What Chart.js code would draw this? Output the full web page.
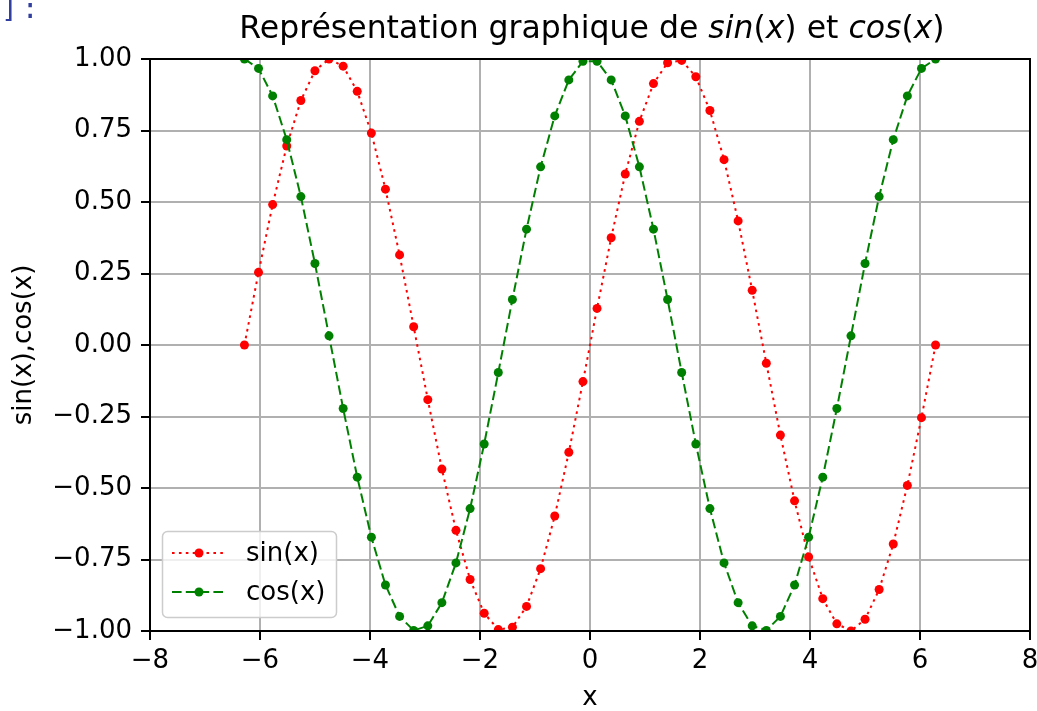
<!DOCTYPE html>
<html><head><meta charset="utf-8">
<script src="https://cdn.jsdelivr.net/npm/chart.js@4/dist/chart.umd.min.js"></script>
<style>
html,body{margin:0;padding:0;background:#fff;}
#wrap{position:relative;width:1037px;height:711px;overflow:hidden;}
#prompt{position:absolute;left:1px;top:-5px;font-family:'DejaVu Sans Mono';font-size:28px;line-height:1;color:#303F9F;letter-spacing:4px;}
canvas{position:absolute;left:0;top:0;}
</style></head><body>
<div id="wrap"><canvas id="c" width="1037" height="711"></canvas><div id="prompt">]:</div></div>
<script>
const xValues = [-6.283,-6.027,-5.770,-5.514,-5.257,-5.001,-4.745,-4.488,-4.232,-3.975,-3.719,-3.462,-3.206,-2.949,-2.693,-2.437,-2.180,-1.924,-1.667,-1.411,-1.154,-0.898,-0.641,-0.385,-0.128,0.128,0.385,0.641,0.898,1.154,1.411,1.667,1.924,2.180,2.437,2.693,2.949,3.206,3.462,3.719,3.975,4.232,4.488,4.745,5.001,5.257,5.514,5.770,6.027,6.283];
const sinValues = [0.000,0.254,0.491,0.696,0.855,0.959,1.000,0.975,0.887,0.741,0.545,0.315,0.064,-0.191,-0.434,-0.648,-0.820,-0.938,-0.995,-0.987,-0.914,-0.782,-0.598,-0.375,-0.128,0.128,0.375,0.598,0.782,0.914,0.987,0.995,0.938,0.820,0.648,0.434,0.191,-0.064,-0.315,-0.545,-0.741,-0.887,-0.975,-1.000,-0.959,-0.855,-0.696,-0.491,-0.254,0.000];
const cosValues = [1.000,0.967,0.871,0.718,0.519,0.285,0.032,-0.222,-0.462,-0.672,-0.839,-0.949,-0.998,-0.982,-0.901,-0.762,-0.572,-0.346,-0.096,0.159,0.405,0.623,0.801,0.927,0.992,0.992,0.927,0.801,0.623,0.405,0.159,-0.096,-0.346,-0.572,-0.762,-0.901,-0.982,-0.998,-0.949,-0.839,-0.672,-0.462,-0.222,0.032,0.285,0.519,0.718,0.871,0.967,1.000];
const xTicks = [-8,-6,-4,-2,0,2,4,6,8];
const yTicks = [-1,-0.75,-0.5,-0.25,0,0.25,0.5,0.75,1];
const seriesNames = ['sin(x)','cos(x)'];
const titleParts = [['Représentation graphique de ',false],['sin',true],['(',false],['x',true],[')',false],[' et ',false],['cos',true],['(',false],['x',true],[')',false]];
const xLabel = 'x';
const yLabel = 'sin(x),cos(x)';

const FONT = 'DejaVu Sans';
const minus = s => String(s).replace('-', '\u2212');

const titlePlugin = {
  id: 'mplTitle',
  afterDraw(chart) {
    const ctx = chart.ctx, ca = chart.chartArea;
    ctx.save();
    ctx.fillStyle = '#000';
    ctx.textBaseline = 'alphabetic';
    const fontOf = it => (it ? 'oblique ' : '') + '31.5px "' + FONT + '"';
    let total = 0;
    titleParts.forEach(p => { ctx.font = fontOf(p[1]); total += ctx.measureText(p[0]).width; });
    let x = (ca.left + ca.right) / 2 + 2 - total / 2;
    const y = ca.top - 21.5;
    ctx.textAlign = 'left';
    titleParts.forEach(p => { ctx.font = fontOf(p[1]); ctx.fillText(p[0], x, y); x += ctx.measureText(p[0]).width; });
    ctx.restore();
  }
};

const framePlugin = {
  id: 'frame',
  afterDatasetsDraw(chart) {
    const ctx = chart.ctx, ca = chart.chartArea;
    ctx.save();
    ctx.strokeStyle = '#000';
    ctx.lineWidth = 2;
    ctx.setLineDash([]);
    ctx.strokeRect(Math.round(ca.left), Math.round(ca.top), Math.round(ca.right - ca.left), Math.round(ca.bottom - ca.top));
    ctx.restore();
  }
};

const legendPlugin = {
  id: 'mplLegend',
  afterDraw(chart) {
    const ctx = chart.ctx, ca = chart.chartArea;
    const bx = ca.left + 12.5, bw = 174, bh = 86, by = ca.bottom - 13.5 - bh;
    ctx.save();
    ctx.beginPath();
    ctx.roundRect(bx, by, bw, bh, 5);
    ctx.fillStyle = 'rgba(255,255,255,0.8)';
    ctx.fill();
    ctx.strokeStyle = '#cccccc';
    ctx.lineWidth = 1.5;
    ctx.stroke();
    chart.data.datasets.forEach((ds, i) => {
      const ry = by + 21.5 + i * 39;
      ctx.beginPath();
      ctx.setLineDash(ds.borderDash);
      ctx.strokeStyle = ds.borderColor;
      ctx.lineWidth = ds.borderWidth;
      ctx.moveTo(bx + 9.5, ry);
      ctx.lineTo(bx + 63.5, ry);
      ctx.stroke();
      ctx.setLineDash([]);
      ctx.beginPath();
      ctx.arc(bx + 36.5, ry, ds.pointRadius, 0, Math.PI * 2);
      ctx.fillStyle = ds.pointBackgroundColor;
      ctx.fill();
      ctx.fillStyle = '#000';
      ctx.font = '26px "' + FONT + '"';
      ctx.textBaseline = 'middle';
      ctx.textAlign = 'left';
      ctx.fillText(ds.label, bx + 83.5, ry + 1);
    });
    ctx.restore();
  }
};

const mk = (vals) => xValues.map((x, i) => ({x: x, y: vals[i]}));

new Chart(document.getElementById('c'), {
  type: 'scatter',
  data: {
    datasets: [
      {label: seriesNames[0], data: mk(sinValues), showLine: true, borderColor: '#ff0000', backgroundColor: '#ff0000',
       pointBackgroundColor: '#ff0000', borderWidth: 2, borderDash: [2.6, 4.3], pointRadius: 4.5, pointBorderWidth: 0,
       pointHoverRadius: 4.5, tension: 0, clip: 0, order: 1},
      {label: seriesNames[1], data: mk(cosValues), showLine: true, borderColor: '#008000', backgroundColor: '#008000',
       pointBackgroundColor: '#008000', borderWidth: 2, borderDash: [9.6, 4.2], pointRadius: 4.5, pointBorderWidth: 0,
       pointHoverRadius: 4.5, tension: 0, clip: 0, order: 0}
    ]
  },
  options: {
    responsive: false,
    animation: false,
    devicePixelRatio: 1,
    layout: {padding: {left: 0, top: 59, right: 7, bottom: 0}},
    plugins: {legend: {display: false}, title: {display: false}, tooltip: {enabled: false}},
    scales: {
      x: {
        type: 'linear', min: -8, max: 8,
        afterBuildTicks: s => { s.ticks = xTicks.map(v => ({value: v})); },
        afterFit: s => { s.height = 80; s.paddingRight = 7; s.paddingLeft = 0; },
        ticks: {callback: v => minus(v), font: {family: FONT, size: 26, lineHeight: 1.2}, color: '#000', padding: 6, maxRotation: 0, autoSkip: false},
        grid: {color: '#b0b0b0', lineWidth: 2, tickColor: '#000', tickWidth: 2, tickLength: 9, drawTicks: true},
        border: {display: false},
        title: {display: true, text: xLabel, font: {family: FONT, size: 26, lineHeight: 1.0}, color: '#000', padding: {top: 0, bottom: 0}}
      },
      y: {
        type: 'linear', min: -1, max: 1,
        afterBuildTicks: s => { s.ticks = yTicks.map(v => ({value: v})); },
        afterFit: s => { s.width = 150; },
        ticks: {callback: v => minus(Number(v).toFixed(2)), font: {family: FONT, size: 26}, color: '#000', padding: 9, autoSkip: false},
        grid: {color: '#b0b0b0', lineWidth: 2, tickColor: '#000', tickWidth: 2, tickLength: 9, drawTicks: true},
        border: {display: false},
        title: {display: true, text: yLabel, font: {family: FONT, size: 26, lineHeight: 1.2}, color: '#000', padding: {top: 9, bottom: 0}}
      }
    }
  },
  plugins: [titlePlugin, framePlugin, legendPlugin]
});
</script>
</body></html>
